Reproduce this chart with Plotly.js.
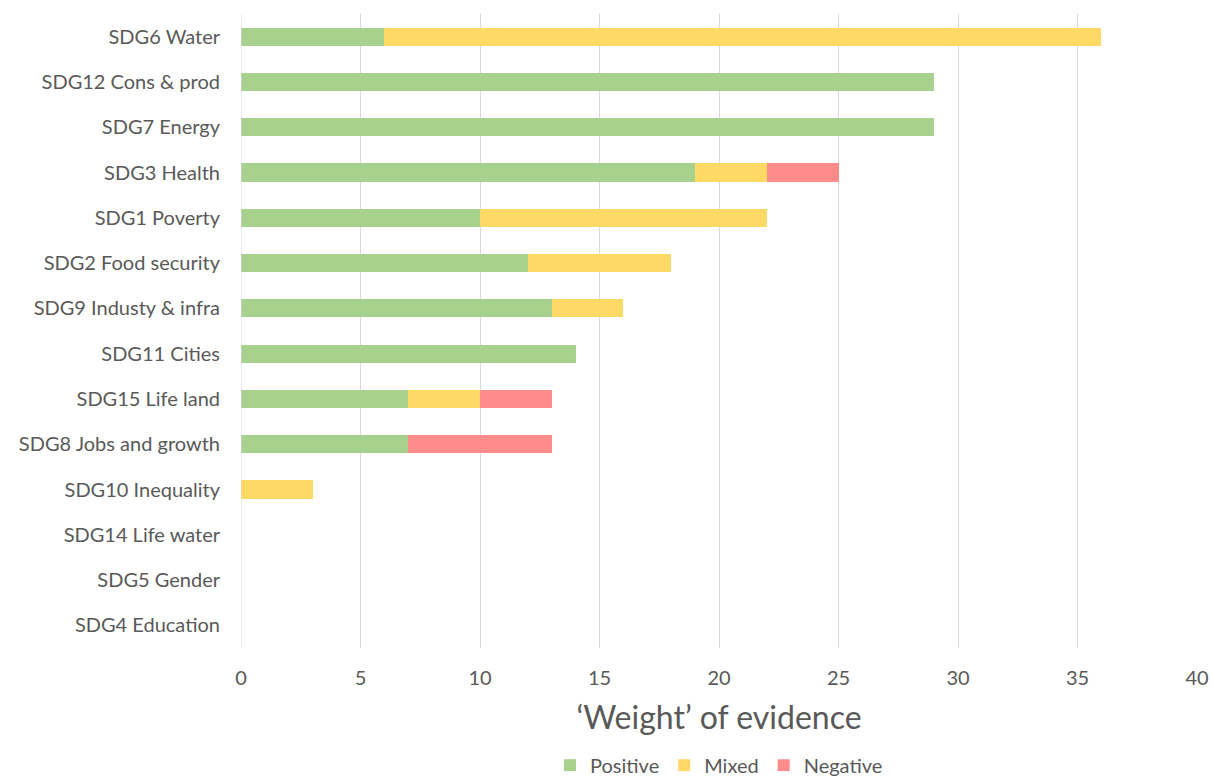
<!DOCTYPE html>
<html>
<head>
<meta charset="utf-8">
<script src="https://cdn.plot.ly/plotly-3.0.1.min.js"></script>
<style>html,body{margin:0;padding:0;background:#fff;}#chart{width:1212px;height:776px;}</style>
</head>
<body>
<div id="chart"></div>
<script>
const categories = ["SDG6 Water","SDG12 Cons & prod","SDG7 Energy","SDG3 Health","SDG1 Poverty","SDG2 Food security","SDG9 Industy & infra","SDG11 Cities","SDG15 Life land","SDG8 Jobs and growth","SDG10 Inequality","SDG14 Life water","SDG5 Gender","SDG4 Education"];
const positive = [6,29,29,19,10,12,13,14,7,7,0,0,0,0];
const mixed    = [30,0,0,3,12,6,3,0,3,0,3,0,0,0];
const negative = [0,0,0,3,0,0,0,0,3,6,0,0,0,0];
const xTicks = [0,5,10,15,20,25,30,35,40];

const font = "Lato, 'Open Sans', sans-serif";
const mk = (name, vals, color) => ({
  type: 'bar', orientation: 'h', name: name, x: vals, y: categories,
  marker: {color: color, line: {width: 0}}, hoverinfo: 'x+y+name'
});
const data = [
  mk('Positive', positive, '#A9D18E'),
  mk('Mixed', mixed, '#FFD966'),
  mk('Negative', negative, '#FF8B8B')
];
const layout = {
  width: 1212, height: 776,
  barmode: 'stack', bargap: 0.6,
  paper_bgcolor: '#fff', plot_bgcolor: '#fff',
  margin: {l: 241, r: 15, t: 14, b: 128},
  font: {family: font, color: '#595959', size: 20},
  xaxis: {
    range: [0, 40], tickvals: xTicks, ticktext: xTicks.map(String),
    showgrid: true, gridcolor: '#D9D9D9', gridwidth: 1, automargin: false,
    zeroline: false, showline: false, ticks: '', ticklabelstandoff: 16,
    tickfont: {size: 20, color: '#595959'},
    title: {text: '\u2018Weight\u2019 of evidence', font: {size: 32, color: '#595959'}, standoff: 18}
  },
  yaxis: {
    autorange: 'reversed', type: 'category', automargin: false,
    showgrid: false, zeroline: false, showline: false, ticks: '',
    ticklabelstandoff: 20,
    tickfont: {size: 20, color: '#595959'}
  },
  showlegend: true,
  legend: {orientation: 'h', x: 0.5, xanchor: 'center', xref: 'paper', yref: 'container', y: 0.014, yanchor: 'middle',
    font: {size: 20, color: '#595959'}, traceorder: 'normal', itemwidth: 30},
  shapes: [{type: 'line', xref: 'x', yref: 'paper', x0: 0, x1: 0, y0: 0, y1: 1, line: {color: '#D9D9D9', width: 1}}]
};
Plotly.newPlot('chart', data, layout, {displayModeBar: false, staticPlot: true});
</script>
</body>
</html>
